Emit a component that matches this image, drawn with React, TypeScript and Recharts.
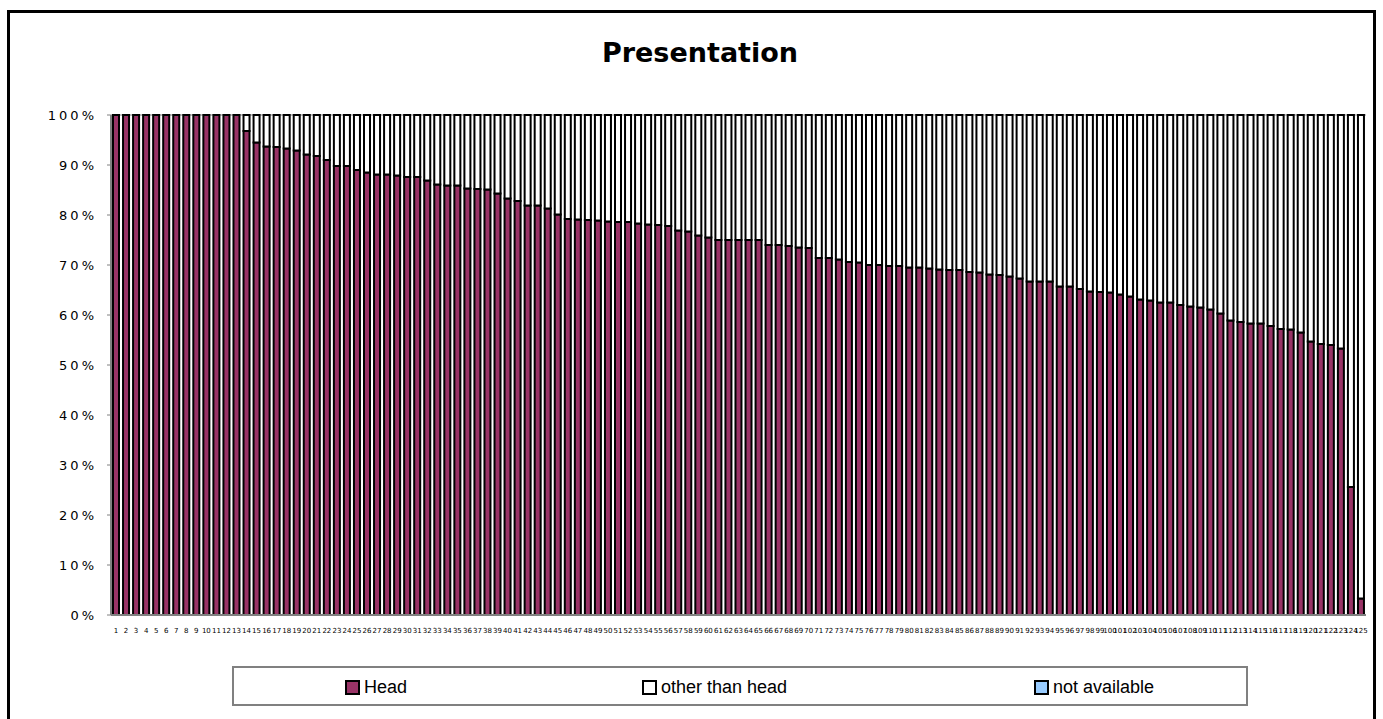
import React from 'react';
import { BarChart, Bar, XAxis, YAxis, CartesianGrid } from 'recharts';

// bar number along the x axis
const categories: string[] = Array.from({ length: 125 }, (_, i) => String(i + 1));

// share of "Head" presentation, percent
const headShare: number[] = [
  100, 100, 100, 100, 100, 100, 100, 100, 100, 100,
  100, 100, 100, 96.8, 94.5, 93.7, 93.6, 93.3, 92.9, 92.1,
  91.8, 91.0, 89.8, 89.8, 89.0, 88.5, 88.1, 88.1, 87.9, 87.6,
  87.6, 86.9, 86.1, 85.9, 85.9, 85.3, 85.2, 85.1, 84.3, 83.3,
  82.8, 81.9, 81.9, 81.3, 80.1, 79.2, 79.1, 79.0, 78.9, 78.7,
  78.6, 78.6, 78.3, 78.1, 78.0, 77.8, 76.9, 76.7, 75.9, 75.5,
  75.0, 75.0, 75.0, 75.0, 75.0, 74.0, 74.0, 73.8, 73.5, 73.4,
  71.4, 71.4, 71.1, 70.6, 70.5, 70.0, 70.0, 69.8, 69.8, 69.5,
  69.5, 69.3, 69.1, 69.0, 69.0, 68.6, 68.5, 68.1, 68.0, 67.7,
  67.3, 66.7, 66.7, 66.7, 65.7, 65.7, 65.2, 64.7, 64.6, 64.5,
  64.1, 63.7, 63.1, 62.9, 62.5, 62.5, 62.0, 61.7, 61.5, 61.1,
  60.3, 58.9, 58.6, 58.3, 58.3, 57.8, 57.2, 57.1, 56.5, 54.7,
  54.2, 54.0, 53.3, 25.6, 3.3,
];

// "not available" share, percent (none in this picture)
const naShare: number[] = new Array(125).fill(0);

const yTicks: number[] = [0, 10, 20, 30, 40, 50, 60, 70, 80, 90, 100];

const seriesNames = ['Head', 'other than head', 'not available'];
const seriesColors = ['#993366', '#FFFFFF', '#99CCFF'];

const data = categories.map((c, i) => ({
  name: c,
  head: headShare[i],
  other: +(100 - headShare[i] - naShare[i]).toFixed(1),
  na: naShare[i],
}));

// legend items sit at fixed spots inside the box, like the Excel original
const legendOffsets = [111, 408, 800];

const ChartLegend = () => (
  <div
    style={{
      position: 'absolute',
      left: 232,
      top: 666,
      width: 1012,
      height: 36,
      border: '2px solid #808080',
      background: '#fff',
    }}
  >
    {seriesNames.map((n, i) => (
      <div
        key={n}
        style={{
          position: 'absolute',
          left: legendOffsets[i],
          top: 10,
          display: 'flex',
          alignItems: 'center',
          fontFamily: '"Liberation Sans", Arial, sans-serif',
          fontSize: 18,
          color: '#000',
          lineHeight: '18px',
        }}
      >
        <span
          style={{
            display: 'inline-block',
            width: 11,
            height: 11,
            border: '2px solid #000',
            background: seriesColors[i],
            marginRight: 4,
          }}
        />
        {n}
      </div>
    ))}
  </div>
);

export default function App() {
  return (
    <div style={{ position: 'absolute', left: 0, top: 0, width: 1383, height: 719, background: '#fff', overflow: 'hidden' }}>
      <div
        style={{
          position: 'absolute',
          left: 7,
          top: 10,
          width: 1363,
          height: 720,
          borderLeft: '3px solid #000',
          borderTop: '3px solid #000',
          borderRight: '3px solid #000',
        }}
      />
      <div
        style={{
          position: 'absolute',
          left: 0,
          width: 1400,
          top: 37,
          textAlign: 'center',
          fontFamily: '"DejaVu Sans", Verdana, sans-serif',
          fontWeight: 'bold',
          fontSize: 27,
        }}
      >
        Presentation
      </div>
      <div style={{ position: 'absolute', left: 0, top: 0 }}>
        <BarChart
          width={1383}
          height={719}
          data={data}
          margin={{ top: 115, right: 17, bottom: 84, left: 0 }}
          barCategoryGap={2}
        >
          <CartesianGrid vertical={false} stroke="#808080" strokeWidth={1} />
          <XAxis
            dataKey="name"
            interval={0}
            tickLine={false}
            tickSize={0}
            tickMargin={13}
            height={20}
            axisLine={{ stroke: '#808080', strokeWidth: 2 }}
            tick={{ fontSize: 7, fill: '#000', fontFamily: '"DejaVu Sans", Verdana, sans-serif' }}
          />
          <YAxis
            yAxisId="left"
            width={111}
            domain={[0, 100]}
            ticks={yTicks}
            tickFormatter={(v: number) => `${v}%`}
            tickSize={4}
            tickMargin={10}
            tickLine={{ stroke: '#808080' }}
            axisLine={{ stroke: '#808080', strokeWidth: 2 }}
            tick={{ fontSize: 13, fill: '#000', fontFamily: '"DejaVu Sans", Verdana, sans-serif', letterSpacing: 3 }}
          />
          <YAxis
            yAxisId="right"
            orientation="right"
            width={0}
            domain={[0, 100]}
            tick={false}
            tickLine={false}
            axisLine={{ stroke: '#808080', strokeWidth: 2 }}
          />
          <Bar yAxisId="left" dataKey="head" name={seriesNames[0]} stackId="s" fill={seriesColors[0]} stroke="#000" strokeWidth={2} isAnimationActive={false} />
          <Bar yAxisId="left" dataKey="other" name={seriesNames[1]} stackId="s" fill={seriesColors[1]} stroke="#000" strokeWidth={2} isAnimationActive={false} />
          <Bar yAxisId="left" dataKey="na" name={seriesNames[2]} stackId="s" fill={seriesColors[2]} stroke="#000" strokeWidth={2} isAnimationActive={false} />
        </BarChart>
      </div>
      <ChartLegend />
    </div>
  );
}
